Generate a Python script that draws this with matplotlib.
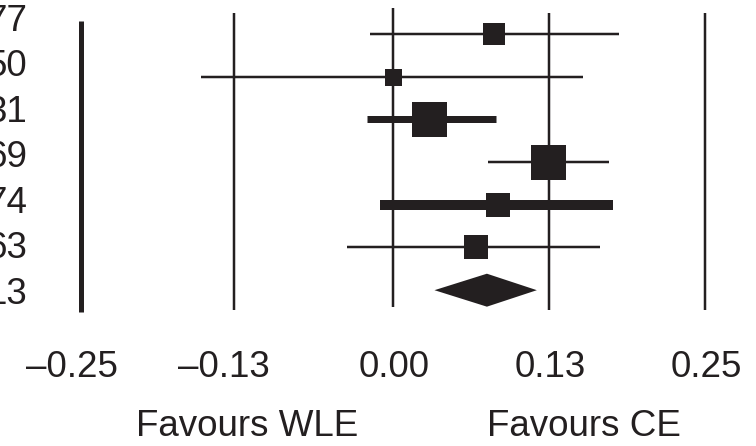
import matplotlib
matplotlib.use("Agg")
import matplotlib.pyplot as plt

# study rows (labels are cut off at the left edge in the original)
row_labels = ["77", "50", "31", "69", "74", "63", "13"]
est = [0.081, 0.000, 0.029, 0.124, 0.084, 0.066]
lo = [-0.019, -0.154, -0.021, 0.076, -0.011, -0.037]
hi = [0.181, 0.152, 0.082, 0.173, 0.176, 0.166]
box_px = [23, 17, 35, 35, 24, 24]
ci_lw_px = [2.5, 2.5, 7, 2.5, 10, 2.5]

# pooled estimate
pool_est, pool_lo, pool_hi = 0.075, 0.033, 0.115

ref_lines = [-0.25, -0.128, 0.0, 0.125, 0.25]
tick_text = ["\u20130.25", "\u20130.13", "0.00", "0.13", "0.25"]

ink = "#231f20"
px = 0.72  # points per pixel at dpi 100
plt.rcParams['font.family'] = ['Liberation Sans', 'DejaVu Sans']

fig = plt.figure(figsize=(7.56, 4.46), dpi=100)
ax = fig.add_axes([0, 0, 1, 1])
ax.set_xlim(-0.3151, 0.2906)
ax.set_ylim(9.649, -0.796)
ax.axis('off')

# vertical reference lines
ax.plot([ref_lines[0]] * 2, [-0.30, 6.51], color=ink, lw=5 * px, solid_capstyle='butt')
for x in ref_lines[1:]:
    top = -0.61 if x == 0 else -0.49
    bot = 6.39 if x == 0 else 6.46
    ax.plot([x, x], [top, bot], color=ink, lw=2.5 * px, solid_capstyle='butt')

# confidence intervals and boxes
for i in range(len(est)):
    ax.plot([lo[i], hi[i]], [i, i], color=ink, lw=ci_lw_px[i] * px, solid_capstyle='butt')
    ax.plot(est[i], i, marker='s', color=ink, markersize=box_px[i] * px, markeredgewidth=0)

# pooled diamond
k = len(est)
h = 0.386
ax.fill([pool_lo, pool_est, pool_hi, pool_est], [k, k - h, k, k + h], color=ink, lw=0)

# row labels on the left, partly out of the figure
for i, lab in enumerate(row_labels):
    ax.text(-0.2935, -0.30 + 1.065 * i, lab, ha='right', va='center', fontsize=26.5, color=ink)

# tick labels (right edges line up just past each line, as in the original)
for x, t in zip(ref_lines, tick_text):
    ax.text(x + 0.029, 7.82, t, ha='right', va='center', fontsize=26.5, color=ink)

ax.text(-0.117, 9.2, "Favours WLE", ha='center', va='center', fontsize=26.5, color=ink)
ax.text(0.153, 9.2, "Favours CE", ha='center', va='center', fontsize=26.5, color=ink)

fig.savefig("out.png", dpi=100)
